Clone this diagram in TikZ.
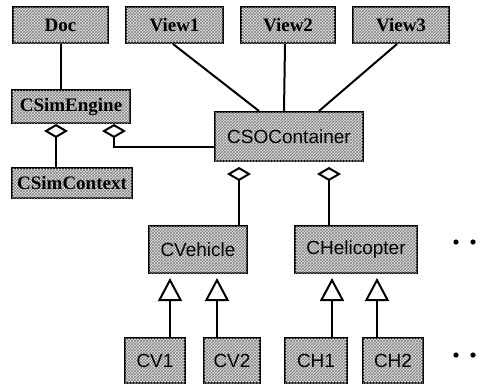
\documentclass[tikz,border=0pt]{standalone}
\usepackage{fontspec}
\setmainfont{Liberation Serif}
\setsansfont{Liberation Sans}
\usetikzlibrary{arrows.meta,patterns}

\begin{document}
\begin{tikzpicture}[x=1pt,y=-1pt,line width=2pt,
  box/.style={draw,inner sep=0pt,fill=black!10,postaction={pattern=crosshatch,pattern color=black!50}},
  rmbox/.style={box,font=\bfseries\fontsize{19}{21}\selectfont},
  sfbox/.style={box,font=\sffamily\fontsize{19}{22}\selectfont},
  agg/.style={{Diamond[open,length=14pt,width=24pt]}-},
  inh/.style={-{Triangle[open,length=23pt,width=24pt]},shorten >=4pt}]
 \useasboundingbox (0,0) rectangle (481,389);
 % top row
 \node[rmbox,minimum width=95pt,minimum height=36pt] (doc) at (60.5,25) {Doc};
 \node[rmbox,minimum width=97pt,minimum height=36pt] (viewa) at (174.5,25) {View1};
 \node[rmbox,minimum width=94pt,minimum height=36pt] (viewb) at (288,25) {View2};
 \node[rmbox,minimum width=96pt,minimum height=36pt] (viewc) at (401,25) {View3};
 % engine side
 \node[rmbox,minimum width=118pt,minimum height=33pt] (simengine) at (71,106.5) {CSimEngine};
 \node[rmbox,minimum width=120pt,minimum height=30pt] (simcontext) at (72,183) {CSimContext};
 \node[sfbox,minimum width=148pt,minimum height=49pt] (socontainer) at (289,136.5) {CSOContainer};
 % classes
 \node[sfbox,minimum width=98pt,minimum height=47pt] (vehicle) at (198,249.5) {CVehicle};
 \node[sfbox,minimum width=122pt,minimum height=47pt] (heli) at (356,249.5) {CHelicopter};
 \node[sfbox,minimum width=60pt,minimum height=45pt] (cva) at (155,360.5) {CV1};
 \node[sfbox,minimum width=56pt,minimum height=45pt] (cvb) at (232,360.5) {CV2};
 \node[sfbox,minimum width=62pt,minimum height=45pt] (cha) at (316,360.5) {CH1};
 \node[sfbox,minimum width=60pt,minimum height=45pt] (chb) at (393,360.5) {CH2};

 \draw (doc.south) -- (doc.south |- simengine.north);
 \draw[agg] ([xshift=45pt]simengine.south west) -- ([xshift=45pt]simcontext.north west);
 \draw[agg] ([xshift=103pt]simengine.south west) |- ([yshift=-10.5pt]socontainer.west);
 \draw ([xshift=-1.5pt]viewa.south) -- ([xshift=45pt]socontainer.north west);
 \draw ([xshift=-3pt]viewb.south) -- ([xshift=70pt]socontainer.north west);
 \draw ([xshift=-4pt]viewc.south) -- ([xshift=105pt]socontainer.north west);
 \draw[agg,shorten <=5pt] ([xshift=25pt]socontainer.south west) -- ([xshift=91pt]vehicle.north west);
 \draw[agg,shorten <=5pt] ([xshift=115pt]socontainer.south west) -- ([xshift=35pt]heli.north west);
 \draw[inh] ([xshift=46pt]cva.north west) -- ([xshift=22pt]vehicle.south west);
 \draw[inh] ([xshift=14pt]cvb.north west) -- ([xshift=69pt]vehicle.south west);
 \draw[inh] ([xshift=48pt]cha.north west) -- ([xshift=38pt]heli.south west);
 \draw[inh] ([xshift=15pt]chb.north west) -- ([xshift=83pt]heli.south west);
 % more classes
 \foreach \y in {242,355}
  \foreach \x in {456,473}
   \fill (\x,\y) circle (2.6pt);
\end{tikzpicture}
\end{document}
